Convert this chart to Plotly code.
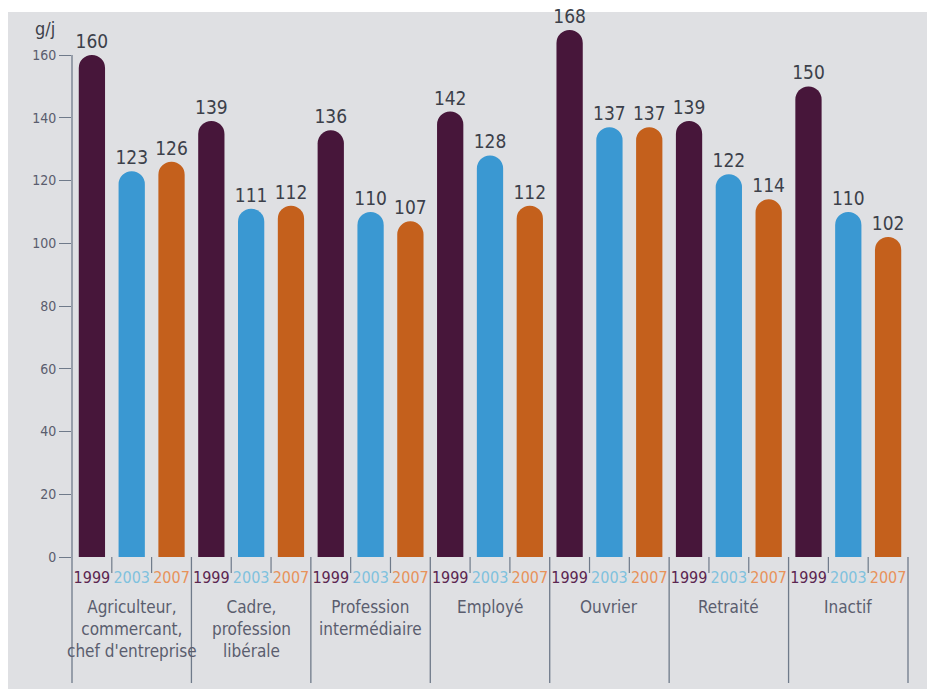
import plotly.graph_objects as go

groups = ["Agriculteur,<br>commercant,<br>chef d'entreprise", "Cadre,<br>profession<br>libérale",
          "Profession<br>intermédiaire", "Employé", "Ouvrier", "Retraité", "Inactif"]
years = ["1999", "2003", "2007"]
v1999 = [160, 139, 136, 142, 168, 139, 150]
v2003 = [123, 111, 110, 128, 137, 122, 110]
v2007 = [126, 112, 107, 112, 137, 114, 102]
series = [v1999, v2003, v2007]
bar_colors = ["#47163a", "#3a98d2", "#c4601c"]
label_colors = ["#5b2550", "#7fc2de", "#e8925a"]
yticks = [0, 20, 40, 60, 80, 100, 120, 140, 160]

FONT = "DejaVu Sans Condensed, Liberation Sans Narrow, Arial Narrow, sans-serif"
n_groups = len(groups)
n_years = len(years)
n_slots = n_groups * n_years
xmin, xmax = -0.5, n_slots - 0.5
ymax = 175

W, H = 927, 689
ML, MR, MT, MB = 72, 19, 8, 132
plot_w = W - ML - MR
plot_h = H - MT - MB

fig = go.Figure()
for k, (yr, vals) in enumerate(zip(years, series)):
    xs = [g * n_years + k for g in range(n_groups)]
    fig.add_trace(go.Bar(
        x=xs, y=vals, name=yr, width=0.66,
        marker=dict(color=bar_colors[k], cornerradius="50%", line=dict(width=0)),
        text=[str(v) for v in vals], textposition="outside", constraintext="none",
        textfont=dict(family=FONT, size=19, color="#3c404a"),
        cliponaxis=False, showlegend=False, hoverinfo="skip",
    ))

tickvals, ticktext = [], []
for g in range(n_groups):
    for k, yr in enumerate(years):
        tickvals.append(g * n_years + k)
        ticktext.append(f"<span style='color:{label_colors[k]}'>{yr}</span>")

def px_x(v):
    return (v - xmin) / (xmax - xmin)

def py(pixels_below_zero):
    return -pixels_below_zero / plot_h

shapes = []
# group dividers (first one doubles as y-axis line)
for g in range(n_groups + 1):
    xv = px_x(g * n_years - 0.5)
    top = (160 / ymax) if g == 0 else 0
    shapes.append(dict(type="line", xref="paper", yref="paper", x0=xv, x1=xv,
                       y0=top, y1=py(126), line=dict(color="#6f7a8a", width=1.3)))
# small year dividers
for g in range(n_groups):
    for k in range(1, n_years):
        xv = px_x(g * n_years + k - 0.5)
        shapes.append(dict(type="line", xref="paper", yref="paper", x0=xv, x1=xv,
                           y0=0, y1=py(16), line=dict(color="#6f7a8a", width=1.2)))
# white photo border strips
shapes.append(dict(type="rect", xref="paper", yref="paper", x0=-ML / plot_w, x1=1 + MR / plot_w,
                   y0=1 + (MT - 12) / plot_h, y1=1 + MT / plot_h, fillcolor="white", line=dict(width=0), layer="below"))
shapes.append(dict(type="rect", xref="paper", yref="paper", x0=-ML / plot_w, x1=-(ML - 8) / plot_w,
                   y0=-MB / plot_h, y1=1 + MT / plot_h, fillcolor="white", line=dict(width=0), layer="below"))

annotations = []
for g, name in enumerate(groups):
    annotations.append(dict(x=g * n_years + 1, xref="x", y=py(38), yref="paper", yanchor="top",
                            text=name, showarrow=False, align="center",
                            font=dict(family=FONT, size=17, color="#5a5d6e")))
annotations.append(dict(x=-(ML - 45) / plot_w, xref="paper", y=1 + (MT - 28) / plot_h, yref="paper",
                        text="g/j", showarrow=False, font=dict(family=FONT, size=18, color="#3c404a"),
                        xanchor="center", yanchor="middle"))

fig.update_layout(
    width=W, height=H, margin=dict(l=ML, r=MR, t=MT, b=MB),
    paper_bgcolor="#dfe0e3", plot_bgcolor="#dfe0e3",
    bargap=0.3, shapes=shapes, annotations=annotations,
    font=dict(family=FONT),
    xaxis=dict(range=[xmin, xmax], tickvals=tickvals, ticktext=ticktext, showline=False,
               showgrid=False, zeroline=False, ticks="", tickangle=0, ticklabelstandoff=9,
               tickfont=dict(family=FONT, size=16), fixedrange=True),
    yaxis=dict(range=[0, ymax], tickvals=yticks, showline=False, showgrid=False, zeroline=False,
               ticks="outside", ticklen=12, tickwidth=1.3, tickcolor="#6f7a8a",
               tickfont=dict(family=FONT, size=14, color="#5a5d6e"), fixedrange=True),
)

fig.write_html("out.html")
